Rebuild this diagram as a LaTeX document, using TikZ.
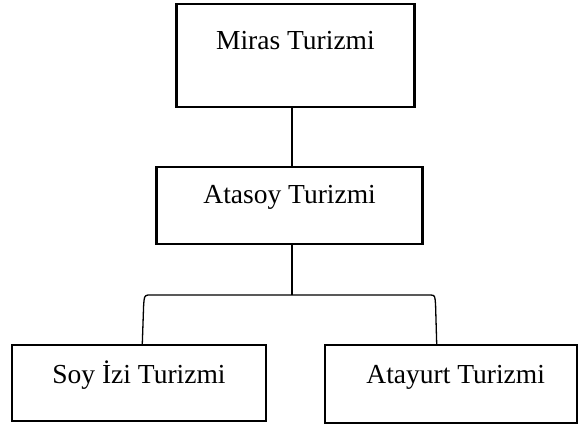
\documentclass[tikz,border=0pt]{standalone}
\usepackage{fontspec}
\setmainfont{Liberation Serif}
\begin{document}
\begin{tikzpicture}[x=1pt,y=-1pt,
  boxnode/.style={draw,line width=2.4pt,rectangle,inner sep=0pt,
    font=\fontsize{27.5}{30}\selectfont},
  conn/.style={line width=1.3pt}]
\useasboundingbox (0,0) rectangle (579,428);
\node[boxnode,minimum width=238pt,text height=46pt,text depth=57pt] (miras) at (295.4,55.5) {Miras Turizmi};
\node[boxnode,minimum width=266pt,text height=36pt,text depth=41pt] (atasoy) at (289.6,205.7) {Atasoy Turizmi};
\node[boxnode,minimum width=254pt,text height=38pt,text depth=38pt] (soy) at (139,383) {Soy İzi Turizmi};
\node[boxnode,minimum width=252pt,text height=38pt,text depth=40pt] (atayurt) at (450.7,384) {\hspace*{10pt}Atayurt Turizmi};
\coordinate (j) at (292,295);
\coordinate (sl) at (142.3,343);
\coordinate (sr) at (436.7,343);
\draw[conn] (j |- miras.south) -- (j |- atasoy.north);
\draw[conn] (j |- atasoy.south) -- (j);
\draw[conn] (sl |- soy.north) -- (143.6,306) .. controls (144.3,296) .. (148,295)
  -- (431,295) .. controls (435,295.5) .. (435.6,306) -- (sr |- atayurt.north);
\end{tikzpicture}
\end{document}
